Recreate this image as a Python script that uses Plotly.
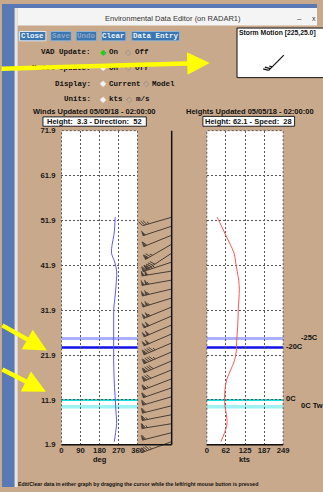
import math
import plotly.graph_objects as go

W, H = 323, 492

# ---------------- data ----------------
heights = [2.6, 4.6, 6.6, 8.6, 10.6, 12.6, 14.6, 16.6, 18.6, 20.6, 22.6, 24.6, 26.6,
           28.6, 30.6, 32.6, 34.6, 36.6, 38.6, 40.6, 42.6, 44.6, 46.6, 48.6, 50.6, 52.6]
wind_dir = [250, 256, 261, 259, 256, 254, 251, 249, 248, 247, 247, 247, 247,
            247, 247, 248, 253, 257, 260, 261, 252, 237, 240, 248, 252, 254]
wind_speed = [46, 58, 66, 64, 59, 58, 60, 66, 78, 90, 96, 97, 99,
              101, 102, 103, 105, 106, 104, 99, 94, 89, 76, 62, 48, 34]
height_ticks = [1.9, 11.9, 21.9, 31.9, 41.9, 51.9, 61.9, 71.9]
dir_ticks = [0, 90, 180, 270, 360]
speed_ticks = [0, 62, 125, 187, 249]
level_heights = [25.6, 23.6, 11.9, 10.4]
level_names = ["-25C", "-20C", "0C", "0C Tw"]
storm_dir = 225
storm_speed = 25.0
cursor_wind = {"height": 3.3, "direction": 52}
cursor_speed = {"height": 62.1, "speed": 28}
updated = "05/05/18 - 02:00:00"

# ---------------- style ----------------
TAN = "#c9a98b"
SANS = "Liberation Sans, Arial, sans-serif"
MONO = "Liberation Mono, Courier New, monospace"
LX0, LX1 = 61, 139
RX0, RX1 = 210, 288.3
PY0, PY1 = 129, 449
level_colors = ["#aab0ff", "#1212e6", "#18dede", "#9ff2f2"]
level_widths = [3, 2.5, 2, 3.5]
level_label_x = [307, 291, 291, 307]


def fx(x):
    return x / W


def fy(y):
    return 1 - y / H


shapes = []
annotations = []


def rect(x0, y0, x1, y1, fill, line=None, lw=0, layer="below"):
    shapes.append(dict(type="rect", xref="paper", yref="paper",
                       x0=fx(x0), x1=fx(x1), y0=fy(y1), y1=fy(y0),
                       fillcolor=fill, line=dict(color=line or fill, width=lw), layer=layer))


def hline(x0, x1, y, color, w, layer="above"):
    shapes.append(dict(type="line", xref="paper", yref="paper", x0=fx(x0), x1=fx(x1),
                       y0=fy(y), y1=fy(y), line=dict(color=color, width=w), layer=layer))


def vline(x, y0, y1, color, w, layer="above"):
    shapes.append(dict(type="line", xref="paper", yref="paper", x0=fx(x), x1=fx(x),
                       y0=fy(y0), y1=fy(y1), line=dict(color=color, width=w), layer=layer))


def text(x, y, s, size=7.5, color="#111", family=SANS, xanchor="left", bold=False):
    annotations.append(dict(x=fx(x), y=fy(y), xref="paper", yref="paper",
                            text=f"<b>{s}</b>" if bold else s, showarrow=False,
                            xanchor=xanchor, yanchor="middle", borderpad=0, borderwidth=0,
                            font=dict(size=size, color=color, family=family)))


# window frame
rect(0, 0, 13, H, "#5879b6")
rect(0, 0, W, 4, "#5879b6")
rect(13, 4, 16, H, "#e6e6e6")
rect(16, 4, W, 22, "#f4f4f4")
text(175, 14.5, "Environmental Data Editor (on RADAR1)", 7.5, "#333", SANS, "center")
text(305, 15, "–", 8, "#333", SANS, "center")
text(318, 15, "x", 7, "#333", SANS, "left")

# buttons
buttons = [("Close", 18, 45, True), ("Save", 50, 71, False), ("Undo", 76, 97, False),
           ("Clear", 102, 127, True), ("Data Entry", 133, 182, True)]
for i, (lab, x0, x1, en) in enumerate(buttons):
    rect(x0, 28, x1, 37.5, "#3a76b0", "#dfe9f3" if i == 0 else "#8fb2d6", 1)
    text((x0 + x1) / 2, 32.8, lab, 7.5, "#eef3f9" if en else "#8fa6c6", MONO, "center", True)

# control rows
rows = [("VAD Update:", 49, [("On", 104, "green"), ("Off", 130, "off")]),
        ("Model Update:", 65, [("On", 104, "sel"), ("Off", 130, "off")]),
        ("Display:", 81, [("Current", 104, "sel"), ("Model", 148, "off")]),
        ("Units:", 97, [("kts", 104, "sel"), ("m/s", 131, "off")])]
for lab, y, opts in rows:
    text(91, y, lab, 7.5, "#111", MONO, "right", True)
    for o, x, st in opts:
        if st == "green":
            text(x, y, "◆", 8, "#22cc22", "DejaVu Sans", "center")
        elif st == "sel":
            text(x, y, "◆", 8, "#f2f2f2", "DejaVu Sans", "center")
        else:
            text(x, y, "◇", 8, "#8a8a8a", "DejaVu Sans", "center")
        text(x + 6, y, o, 7.5, "#111", MONO, "left", True)

# storm motion box
rect(241, 24.5, 335, 75, "white", "#111", 1)
text(243, 29.5, f"Storm Motion [{storm_dir},{storm_speed:.1f}]", 6.8, "#111", SANS, "left", True)

# panel titles and cursor boxes
text(94, 110, f"Winds Updated {updated}", 7.5, "#111", SANS, "center", True)
text(254, 110, f"Heights Updated {updated}", 7.5, "#111", SANS, "center", True)
rect(42, 115, 148, 124.5, "white", "#222", 1)
rect(206, 114.5, 300, 124.5, "white", "#222", 1)
text(95, 119.8, f"Height:  {cursor_wind['height']} - Direction:  {cursor_wind['direction']}",
     7.5, "#111", SANS, "center", True)
text(253, 119.6, f"Height: {cursor_speed['height']} - Speed:  {cursor_speed['speed']}",
     7.5, "#111", SANS, "center", True)

# axis titles
text(100, 464, "deg", 7.5, "#111", SANS, "center", True)
text(249, 464, "kts", 7.5, "#111", SANS, "center", True)

# instruction text
text(16, 488.5, "Edit/Clear data in either graph by dragging the cursor while the left/right mouse button is pressed",
     5.2, "#111", SANS, "left", True)

# plot backgrounds and level lines
for xr, yr in (("x", "y"), ("x2", "y2")):
    shapes.append(dict(type="rect", xref=f"{xr} domain", yref=f"{yr} domain", x0=0, x1=1, y0=0, y1=1,
                       fillcolor="white", line=dict(width=0), layer="below"))
for xr, yr in (("x", "y"), ("x2", "y2")):
    for h, c, w in zip(level_heights, level_colors, level_widths):
        shapes.append(dict(type="line", xref=f"{xr} domain", yref=yr, x0=0, x1=1, y0=h, y1=h,
                           line=dict(color=c, width=w), layer="below"))
    shapes.append(dict(type="rect", xref=f"{xr} domain", yref=f"{yr} domain", x0=0, x1=1, y0=0, y1=1,
                       line=dict(color="#555", width=1, dash="2px,2px"), layer="above"))
for h, nm, lx in zip(level_heights, level_names, level_label_x):
    annotations.append(dict(x=fx(lx), xref="paper", y=h, yref="y2", yshift=1, text=f"<b>{nm}</b>",
                            showarrow=False, xanchor="left", yanchor="middle", borderpad=0, borderwidth=0,
                            font=dict(size=7.5, color="#111", family=SANS)))

# axis lines and barb staff
hline(LX0, 174, PY1, "#111", 1.5)
hline(RX0, RX1, PY1, "#111", 1.5)
vline(174, PY0, PY1, "#111", 1.5)


# ---------------- wind barbs ----------------
def barb_geom(d, s, L, tl, sp, fw):
    ux, uy = math.sin(math.radians(d)), math.cos(math.radians(d))
    qx, qy = uy, -ux
    lean = 0.6
    lines = [(0.0, 0.0), (L * ux, L * uy), None]
    flags = []
    rem = int(round(s / 5.0)) * 5
    pos = L
    while rem >= 50:
        a = (pos * ux, pos * uy)
        b = ((pos - fw) * ux, (pos - fw) * uy)
        t = (a[0] + tl * qx, a[1] + tl * qy)
        flags += [a, t, b, a, None]
        pos -= fw + 1
        rem -= 50
    while rem >= 10:
        a = (pos * ux, pos * uy)
        t = (a[0] + tl * (qx + lean * ux), a[1] + tl * (qy + lean * uy))
        lines += [a, t, None]
        pos -= sp
        rem -= 10
    if rem >= 5:
        if pos == L:
            pos -= sp
        a = (pos * ux, pos * uy)
        t = (a[0] + 0.5 * tl * (qx + lean * ux), a[1] + 0.5 * tl * (qy + lean * uy))
        lines += [a, t, None]
    return lines, flags


ymin, ymax = height_ticks[0], height_ticks[-1]
ppu = (PY1 - PY0) / (ymax - ymin)
B_TOP, B_BOT = 120, 470
y3_range = [ymin - (B_BOT - PY1) / ppu, ymax + (PY0 - B_TOP) / ppu]

bx, by, fxs, fys = [], [], [], []
for h, d, s in zip(heights, wind_dir, wind_speed):
    lines, flags = barb_geom(d, s, 31, 5, 2.3, 2.6)
    for p in lines:
        bx.append(None if p is None else p[0])
        by.append(None if p is None else h + p[1] / ppu)
    for p in flags:
        fxs.append(None if p is None else p[0])
        fys.append(None if p is None else h + p[1] / ppu)

sl, sf = barb_geom(storm_dir, storm_speed, 22, 5, 2.5, 3)
SOX, SOY = 48, 23
sx = [None if p is None else SOX + p[0] for p in sl]
sy = [None if p is None else SOY + p[1] for p in sl]

BARB = "#4a3e34"
fig = go.Figure()
fig.add_trace(go.Scatter(x=wind_dir, y=heights, xaxis="x", yaxis="y", mode="lines",
                         line=dict(color="#5a5aff", width=1, shape="spline"), hoverinfo="skip"))
fig.add_trace(go.Scatter(x=wind_speed, y=heights, xaxis="x2", yaxis="y2", mode="lines",
                         line=dict(color="#ff5656", width=1, shape="spline"), hoverinfo="skip"))
fig.add_trace(go.Scatter(x=bx, y=by, xaxis="x3", yaxis="y3", mode="lines",
                         line=dict(color=BARB, width=1), hoverinfo="skip"))
fig.add_trace(go.Scatter(x=fxs, y=fys, xaxis="x3", yaxis="y3", mode="lines", fill="toself",
                         fillcolor=BARB, line=dict(color=BARB, width=0.5), hoverinfo="skip"))
fig.add_trace(go.Scatter(x=sx, y=sy, xaxis="x4", yaxis="y4", mode="lines",
                         line=dict(color="#111", width=1.2), hoverinfo="skip"))

tickfont = dict(size=7.7, color="#1a1a1a", family=SANS)
grid = dict(showgrid=True, gridcolor="#555", gridwidth=1, griddash="2px,2px",
            zeroline=False, showline=False, ticks="", ticklen=0, fixedrange=True)
ydom = [fy(PY1), fy(PY0)]

fig.update_layout(
    width=W, height=H, margin=dict(l=0, r=0, t=0, b=0),
    paper_bgcolor=TAN, plot_bgcolor="rgba(0,0,0,0)", showlegend=False,
    xaxis=dict(domain=[fx(LX0), fx(LX1)], range=[0, 360], anchor="y",
               tickvals=dir_ticks, ticktext=[f"<b>{v}</b>" for v in dir_ticks],
               tickfont=tickfont, ticklabelstandoff=0, **grid),
    yaxis=dict(domain=ydom, range=[ymin, ymax], anchor="x",
               tickvals=height_ticks, ticktext=[f"<b>{v}</b>" for v in height_ticks],
               tickfont=tickfont, ticklabelstandoff=5, **grid),
    xaxis2=dict(domain=[fx(RX0), fx(RX1)], range=[0, 249], anchor="y2",
                tickvals=speed_ticks, ticktext=[f"<b>{v}</b>" for v in speed_ticks],
                tickfont=tickfont, ticklabelstandoff=0, **grid),
    yaxis2=dict(domain=ydom, range=[ymin, ymax], anchor="x2",
                tickvals=height_ticks, showticklabels=False, **grid),
    xaxis3=dict(domain=[fx(124), fx(176)], range=[-50, 2], anchor="y3", visible=False, fixedrange=True),
    yaxis3=dict(domain=[fy(B_BOT), fy(B_TOP)], range=y3_range, anchor="x3", visible=False, fixedrange=True),
    xaxis4=dict(domain=[fx(241), 1.0], range=[0, 82], anchor="y4", visible=False, fixedrange=True),
    yaxis4=dict(domain=[fy(75), fy(24)], range=[0, 51], anchor="x4", visible=False, fixedrange=True),
    shapes=shapes,
)

# yellow arrows (on top)
for tip, tail in [((213, 60), (0, 66)), ((46, 353), (0, 327)), ((45, 395), (0, 372))]:
    annotations.append(dict(x=fx(tip[0]), y=fy(tip[1]), xref="paper", yref="paper",
                            ax=tail[0] - tip[0], ay=tail[1] - tip[1], axref="pixel", ayref="pixel",
                            text="", showarrow=True, arrowhead=2, arrowsize=1.0, arrowwidth=4.5,
                            arrowcolor="#ffff00", standoff=0))
fig.update_layout(annotations=annotations)

fig.write_html("out.html", config={"displayModeBar": False},
               post_script="document.body.style.margin='0';document.body.style.padding='0';"
                           "document.documentElement.style.overflow='hidden';")
